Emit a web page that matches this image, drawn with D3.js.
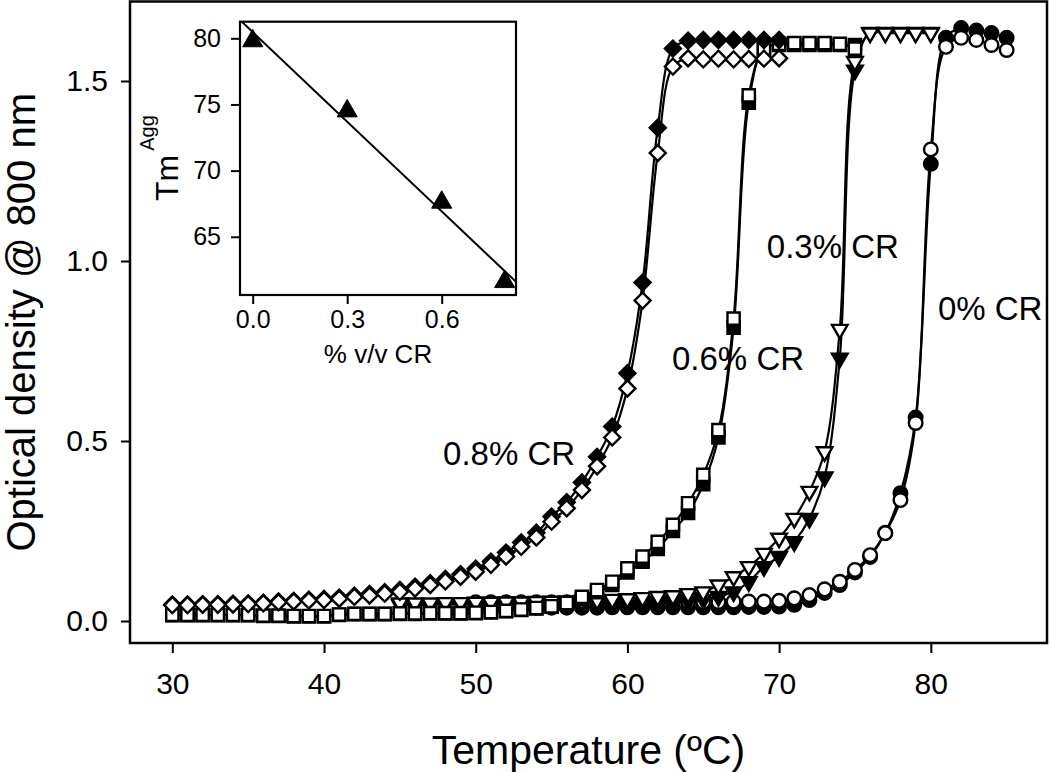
<!DOCTYPE html>
<html><head><meta charset="utf-8">
<script src="https://cdn.jsdelivr.net/npm/d3@7"></script>
<style>body{margin:0;background:#fff} svg{display:block} text{font-family:"Liberation Sans",Arial,Helvetica,sans-serif;fill:#000}</style>
</head><body><svg id="c" width="1050" height="772"></svg>
<script>
// ---------------- DATA ----------------
const tempDiamond = [30,31,32,33,34,35,36,37,38,39,40,41,42,43,44,45,46,47,48,49,50,51,52,53,54,55,56,57,58,59,60,61,62,63,64,65,66,67,68,69,70];
const odDiamondOpen = [0.044,0.044,0.045,0.045,0.046,0.047,0.049,0.052,0.054,0.057,0.058,0.062,0.067,0.071,0.076,0.081,0.090,0.100,0.110,0.123,0.137,0.156,0.179,0.206,0.232,0.276,0.313,0.364,0.430,0.510,0.646,0.890,1.300,1.540,1.563,1.560,1.562,1.560,1.561,1.562,1.563];
const odDiamondFilled = [0.046,0.046,0.047,0.047,0.048,0.049,0.051,0.054,0.056,0.059,0.061,0.065,0.070,0.075,0.080,0.086,0.095,0.105,0.117,0.130,0.145,0.165,0.190,0.218,0.245,0.290,0.330,0.385,0.456,0.540,0.688,0.940,1.370,1.590,1.612,1.614,1.614,1.614,1.614,1.614,1.614];

const tempSquare = [30,31,32,33,34,35,36,37,38,39,40,41,42,43,44,45,46,47,48,49,50,51,52,53,54,55,56,57,58,59,60,61,62,63,64,65,66,67,68,69,70,71,72,73,74,75];
const odSquareOpen = [0.017,0.017,0.017,0.017,0.017,0.017,0.015,0.015,0.014,0.014,0.014,0.018,0.020,0.020,0.020,0.021,0.021,0.022,0.022,0.022,0.023,0.025,0.028,0.032,0.036,0.041,0.050,0.067,0.086,0.109,0.146,0.179,0.220,0.267,0.327,0.406,0.530,0.840,1.460,1.590,1.603,1.605,1.605,1.605,1.603,1.590];
const odSquareFilled = [0.016,0.016,0.016,0.016,0.016,0.016,0.014,0.014,0.013,0.013,0.013,0.017,0.019,0.019,0.019,0.020,0.020,0.021,0.021,0.021,0.022,0.024,0.027,0.031,0.035,0.040,0.048,0.062,0.080,0.100,0.135,0.165,0.200,0.250,0.300,0.380,0.510,0.815,1.440,1.590,1.600,1.600,1.600,1.600,1.600,1.600];

const tempTriangle = [45,46,47,48,49,50,51,52,53,54,55,56,57,58,59,60,61,62,63,64,65,66,67,68,69,70,71,72,73,74,75,76,77,78,79,80];
const odTriangleOpen = [0.050,0.050,0.050,0.051,0.051,0.052,0.052,0.053,0.053,0.054,0.055,0.056,0.057,0.058,0.060,0.062,0.065,0.068,0.070,0.076,0.081,0.100,0.123,0.151,0.188,0.230,0.285,0.360,0.470,0.810,1.554,1.633,1.633,1.633,1.633,1.633];
const odTriangleFilled = [0.045,0.045,0.045,0.046,0.046,0.046,0.047,0.047,0.047,0.048,0.048,0.048,0.049,0.049,0.049,0.050,0.050,0.050,0.052,0.055,0.060,0.068,0.081,0.109,0.151,0.179,0.220,0.285,0.400,0.730,1.530,1.635,1.635,1.635,1.635,1.635];

const tempCircle = [50,51,52,53,54,55,56,57,58,59,60,61,62,63,64,65,66,67,68,69,70,71,72,73,74,75,76,77,78,79,80,81,82,83,84,85];
const odCircleOpen = [0.052,0.052,0.052,0.052,0.052,0.052,0.052,0.052,0.052,0.053,0.053,0.053,0.053,0.053,0.053,0.053,0.053,0.054,0.054,0.054,0.056,0.063,0.072,0.088,0.109,0.142,0.183,0.244,0.336,0.550,1.310,1.595,1.620,1.614,1.600,1.586];
const odCircleFilled = [0.036,0.036,0.036,0.036,0.037,0.037,0.037,0.037,0.037,0.038,0.038,0.038,0.038,0.038,0.038,0.038,0.038,0.038,0.039,0.039,0.040,0.045,0.058,0.078,0.100,0.135,0.178,0.245,0.355,0.565,1.270,1.620,1.647,1.640,1.633,1.620];

const seriesLabels = ["0.8% CR","0.6% CR","0.3% CR","0% CR"];
const xTicks = [30,40,50,60,70,80];
const yTicks = [0.0,0.5,1.0,1.5];

// inset
const insetCR = [0, 0.3, 0.6, 0.8];
const insetTm = [79.8, 74.5, 67.6, 61.6];
const insetXTicks = [0.0, 0.3, 0.6];
const insetYTicks = [65, 70, 75, 80];

// ---------------- CHART ----------------
const svg = d3.select("#c");
const L = 130, R = 1047, T = 1.5, B = 643;
const x = d3.scaleLinear().domain([27.21, 87.66]).range([L, R]);
const y = d3.scaleLinear().domain([-0.0611, 1.7208]).range([B, T]);

const toPts = (t, v) => t.map((d, i) => [d, v[i]]);
const series = [
  {pts: toPts(tempCircle, odCircleFilled), shape: "circle", fill: "#000"},
  {pts: toPts(tempCircle, odCircleOpen), shape: "circle", fill: "#fff"},
  {pts: toPts(tempTriangle, odTriangleFilled), shape: "tri", fill: "#000"},
  {pts: toPts(tempTriangle, odTriangleOpen), shape: "tri", fill: "#fff"},
  {pts: toPts(tempSquare, odSquareFilled), shape: "square", fill: "#000"},
  {pts: toPts(tempSquare, odSquareOpen), shape: "square", fill: "#fff"},
  {pts: toPts(tempDiamond, odDiamondFilled), shape: "diamond", fill: "#000"},
  {pts: toPts(tempDiamond, odDiamondOpen), shape: "diamond", fill: "#fff"}
];

svg.append("defs").append("clipPath").attr("id", "pc")
  .append("rect").attr("x", L).attr("y", T).attr("width", R - L).attr("height", B - T);

const line = d3.line().x(d => x(d[0])).y(d => y(d[1])).curve(d3.curveCatmullRom.alpha(0.5));
const gPlot = svg.append("g").attr("clip-path", "url(#pc)");
series.forEach(s => {
  gPlot.append("path").attr("d", line(s.pts)).attr("fill", "none")
    .attr("stroke", "#000").attr("stroke-width", 2.2);
});

const sym = {
  circle: d3.symbol(d3.symbolCircle, 145)(),
  square: d3.symbol(d3.symbolSquare, 150)(),
  diamond: d3.symbol(d3.symbolSquare, 128)(),
  tri: d3.symbol(d3.symbolTriangle, 105)()
};
const rot = {circle: 0, square: 0, diamond: 45, tri: 180};
series.forEach(s => {
  gPlot.append("g").selectAll("path").data(s.pts).join("path")
    .attr("d", sym[s.shape])
    .attr("transform", d => `translate(${x(d[0])},${y(d[1])}) rotate(${rot[s.shape]})`)
    .attr("fill", s.fill).attr("stroke", "#000").attr("stroke-width", 2.4);
});

// frame
svg.append("rect").attr("x", L).attr("y", T).attr("width", R - L).attr("height", B - T)
  .attr("fill", "none").attr("stroke", "#000").attr("stroke-width", 2.5);

// axes
const ax = svg.append("g").attr("transform", `translate(0,${B})`)
  .call(d3.axisBottom(x).tickValues(xTicks).tickSize(10).tickPadding(20).tickFormat(d3.format("d")));
ax.select(".domain").remove();
ax.selectAll("line").attr("stroke-width", 2);
ax.selectAll("text").style("font-size", "30px").attr("font-family", null);

const ay = svg.append("g").attr("transform", `translate(${L},0)`)
  .call(d3.axisLeft(y).tickValues(yTicks).tickSize(9).tickPadding(13).tickFormat(d3.format(".1f")));
ay.select(".domain").remove();
ay.selectAll("line").attr("stroke-width", 2);
ay.selectAll("text").style("font-size", "30px").attr("font-family", null);

svg.append("text").attr("x", (L + R) / 2).attr("y", 764).attr("text-anchor", "middle")
  .style("font-size", "41px").text("Temperature (ºC)");
svg.append("text").attr("transform", `translate(35,${(T + B) / 2}) rotate(-90)`).attr("text-anchor", "middle")
  .style("font-size", "40px").text("Optical density @ 800 nm");

// series labels (anchor positions in data units)
const labelPos = [[47.85, 0.433], [62.94, 0.697], [69.19, 1.008], [80.47, 0.836]];
seriesLabels.forEach((t, i) => {
  svg.append("text").attr("x", x(labelPos[i][0])).attr("y", y(labelPos[i][1]))
    .style("font-size", "33px").text(t);
});

// ---------------- INSET ----------------
const iL = 240, iR = 516, iT = 21.7, iB = 295;
const ix = d3.scaleLinear().domain([-0.0403, 0.8359]).range([iL, iR]);
const iy = d3.scaleLinear().domain([60.6, 81.255]).range([iB, iT]);
svg.append("rect").attr("x", iL).attr("y", iT).attr("width", iR - iL).attr("height", iB - iT)
  .attr("fill", "#fff").attr("stroke", "none");
svg.append("defs").append("clipPath").attr("id", "ic")
  .append("rect").attr("x", iL).attr("y", iT).attr("width", iR - iL).attr("height", iB - iT);

// least squares fit line
const mx = d3.mean(insetCR), my = d3.mean(insetTm);
const slope = d3.sum(insetCR.map((d, i) => (d - mx) * (insetTm[i] - my))) / d3.sum(insetCR.map(d => (d - mx) ** 2));
const icpt = my - slope * mx;
const gI = svg.append("g").attr("clip-path", "url(#ic)");
const xd = ix.domain();
gI.append("line").attr("x1", ix(xd[0])).attr("y1", iy(icpt + slope * xd[0]))
  .attr("x2", ix(xd[1])).attr("y2", iy(icpt + slope * xd[1]))
  .attr("stroke", "#000").attr("stroke-width", 2);
gI.selectAll("path.m").data(insetCR).join("path").attr("class", "m")
  .attr("d", d3.symbol(d3.symbolTriangle, 175)())
  .attr("transform", (d, i) => `translate(${ix(d)},${iy(insetTm[i])})`)
  .attr("fill", "#000").attr("stroke", "#000").attr("stroke-width", 1);

svg.append("rect").attr("x", iL).attr("y", iT).attr("width", iR - iL).attr("height", iB - iT)
  .attr("fill", "none").attr("stroke", "#000").attr("stroke-width", 2.2);

const iax = svg.append("g").attr("transform", `translate(0,${iB})`)
  .call(d3.axisBottom(ix).tickValues(insetXTicks).tickSize(9).tickPadding(6).tickFormat(d3.format(".1f")));
iax.select(".domain").remove();
iax.selectAll("line").attr("stroke-width", 2);
iax.selectAll("text").style("font-size", "25px").attr("font-family", null);

const iay = svg.append("g").attr("transform", `translate(${iL},0)`)
  .call(d3.axisLeft(iy).tickValues(insetYTicks).tickSize(9).tickPadding(10).tickFormat(d3.format("d")));
iay.select(".domain").remove();
iay.selectAll("line").attr("stroke-width", 2);
iay.selectAll("text").style("font-size", "25px").attr("font-family", null);

svg.append("text").attr("x", (iL + iR) / 2).attr("y", 363).attr("text-anchor", "middle")
  .style("font-size", "26px").text("% v/v CR");
const tm = svg.append("text").attr("transform", `translate(178,201) rotate(-90)`).style("font-size", "32px");
tm.append("tspan").text("Tm");
tm.append("tspan").attr("dx", 4).attr("dy", -24).style("font-size", "20px").text("Agg");
</script></body></html>
